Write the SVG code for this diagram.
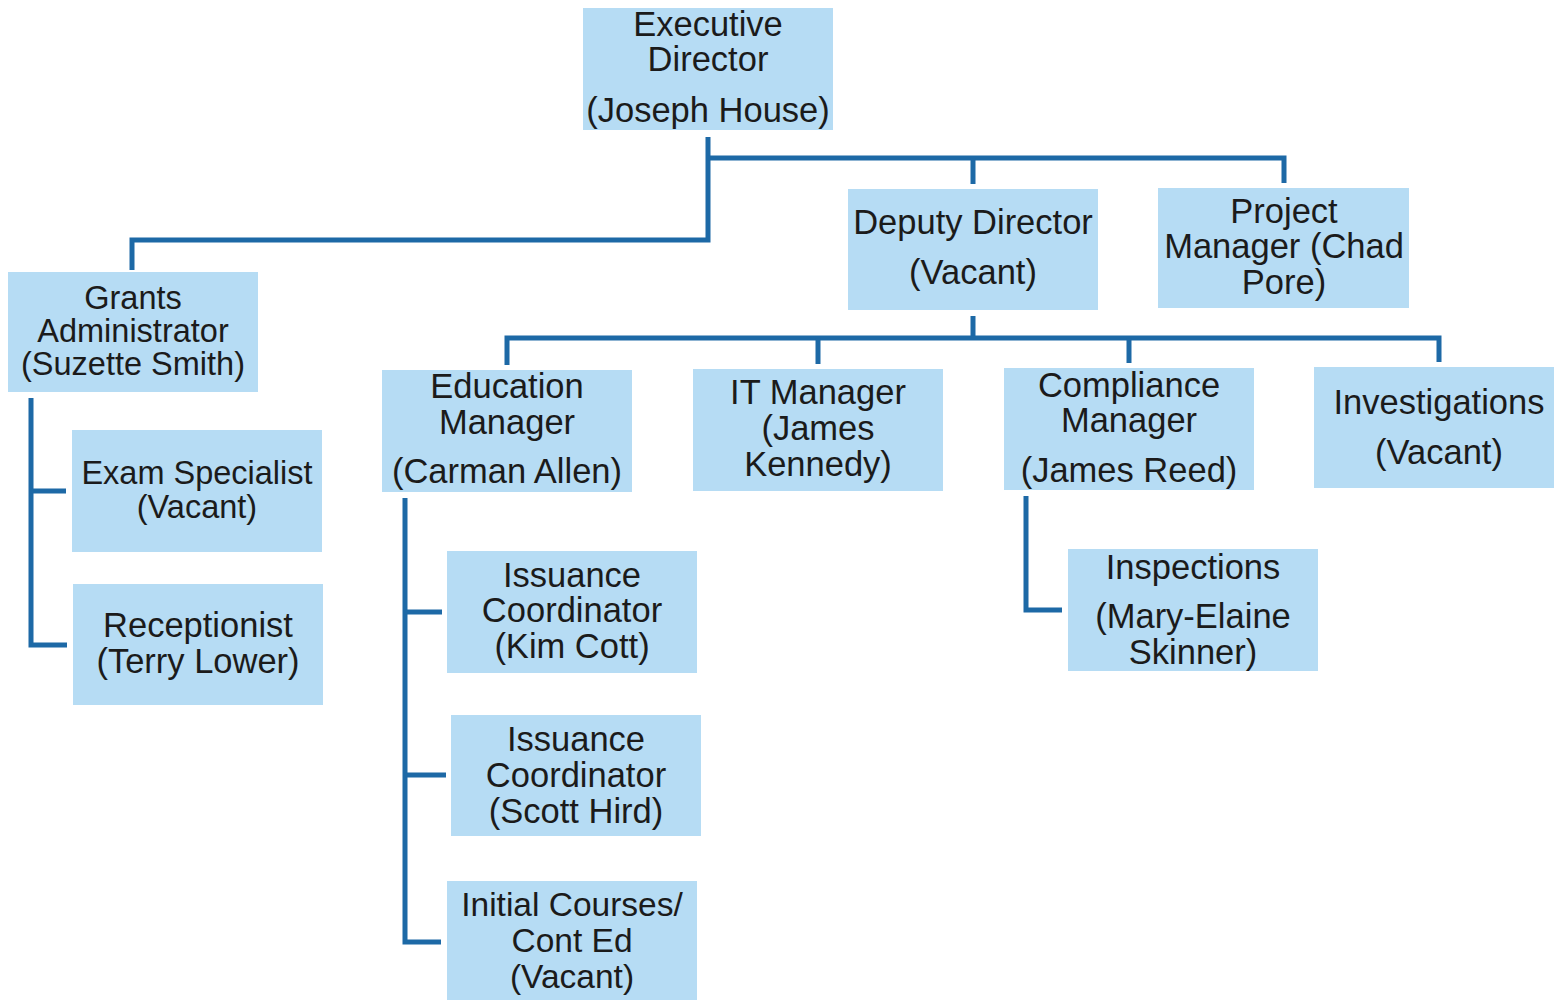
<svg xmlns="http://www.w3.org/2000/svg" width="1554" height="1000" viewBox="0 0 1554 1000">
<style>
.box{fill:#b6dcf4;}
.t{font-family:"Liberation Sans",Arial,sans-serif;font-size:34.5px;fill:#1b1b1b;text-anchor:middle;}
.s{font-size:32.5px;}
.c{fill:none;stroke:#1d69a6;stroke-width:5;stroke-linejoin:miter;stroke-linecap:butt;}
</style>
<rect width="1554" height="1000" fill="#ffffff"/>
<g id="connectors">
<path class="c" d="M708,137 V240 H132 V270"/>
<path class="c" d="M708,158 H1284 V183"/>
<path class="c" d="M973,158 V184"/>
<path class="c" d="M973,316 V338"/>
<path class="c" d="M507,365 V338 H1439 V362"/>
<path class="c" d="M818,338 V364"/>
<path class="c" d="M1129,338 V363"/>
<path class="c" d="M31,398 V645 H67"/>
<path class="c" d="M31,491 H66"/>
<path class="c" d="M405,498 V942 H441"/>
<path class="c" d="M405,612 H442"/>
<path class="c" d="M405,775 H446"/>
<path class="c" d="M1026,496 V610 H1062"/>
</g>
<g id="exec">
<rect class="box" x="583" y="8" width="250" height="122"/>
<text class="t"><tspan x="708" y="36">Executive</tspan><tspan x="708" y="71">Director</tspan><tspan x="708" y="122">(Joseph House)</tspan></text>
</g>
<g id="deputy">
<rect class="box" x="848" y="189" width="250" height="121"/>
<text class="t"><tspan x="973" y="234">Deputy Director</tspan><tspan x="973" y="284">(Vacant)</tspan></text>
</g>
<g id="project">
<rect class="box" x="1158" y="188" width="251" height="120"/>
<text class="t"><tspan x="1284" y="223">Project</tspan><tspan x="1284" y="258">Manager (Chad</tspan><tspan x="1284" y="294">Pore)</tspan></text>
</g>
<g id="grants">
<rect class="box" x="8" y="272" width="250" height="120"/>
<text class="t s"><tspan x="133" y="309">Grants</tspan><tspan x="133" y="342">Administrator</tspan><tspan x="133" y="375">(Suzette Smith)</tspan></text>
</g>
<g id="exam">
<rect class="box" x="72" y="430" width="250" height="122"/>
<text class="t s"><tspan x="197" y="484">Exam Specialist</tspan><tspan x="197" y="518">(Vacant)</tspan></text>
</g>
<g id="receptionist">
<rect class="box" x="73" y="584" width="250" height="121"/>
<text class="t"><tspan x="198" y="637">Receptionist</tspan><tspan x="198" y="673">(Terry Lower)</tspan></text>
</g>
<g id="education">
<rect class="box" x="382" y="370" width="250" height="122"/>
<text class="t"><tspan x="507" y="398">Education</tspan><tspan x="507" y="434">Manager</tspan><tspan x="507" y="483">(Carman Allen)</tspan></text>
</g>
<g id="it">
<rect class="box" x="693" y="369" width="250" height="122"/>
<text class="t"><tspan x="818" y="404">IT Manager</tspan><tspan x="818" y="440">(James</tspan><tspan x="818" y="476">Kennedy)</tspan></text>
</g>
<g id="compliance">
<rect class="box" x="1004" y="368" width="250" height="122"/>
<text class="t"><tspan x="1129" y="397">Compliance</tspan><tspan x="1129" y="432">Manager</tspan><tspan x="1129" y="482">(James Reed)</tspan></text>
</g>
<g id="investigations">
<rect class="box" x="1314" y="367" width="240" height="121"/>
<text class="t"><tspan x="1439" y="414">Investigations</tspan><tspan x="1439" y="464">(Vacant)</tspan></text>
</g>
<g id="inspections">
<rect class="box" x="1068" y="549" width="250" height="122"/>
<text class="t"><tspan x="1193" y="579">Inspections</tspan><tspan x="1193" y="628">(Mary-Elaine</tspan><tspan x="1193" y="664">Skinner)</tspan></text>
</g>
<g id="issuance1">
<rect class="box" x="447" y="551" width="250" height="122"/>
<text class="t"><tspan x="572" y="587">Issuance</tspan><tspan x="572" y="622">Coordinator</tspan><tspan x="572" y="658">(Kim Cott)</tspan></text>
</g>
<g id="issuance2">
<rect class="box" x="451" y="715" width="250" height="121"/>
<text class="t"><tspan x="576" y="751">Issuance</tspan><tspan x="576" y="787">Coordinator</tspan><tspan x="576" y="823">(Scott Hird)</tspan></text>
</g>
<g id="initial">
<rect class="box" x="447" y="881" width="250" height="119"/>
<text class="t" style="font-size:33.5px"><tspan x="572" y="916">Initial Courses/</tspan><tspan x="572" y="952">Cont Ed</tspan><tspan x="572" y="988">(Vacant)</tspan></text>
</g>
</svg>
